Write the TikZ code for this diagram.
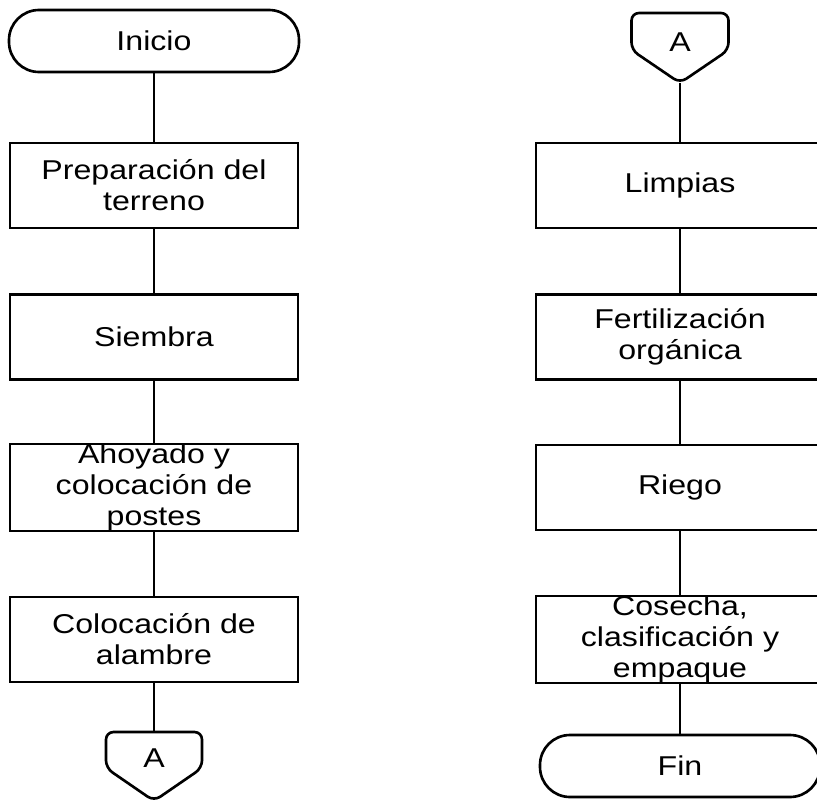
\documentclass[tikz,border=0pt]{standalone}
\usepackage{fontspec}
\setmainfont{Liberation Sans}[FakeStretch=1.18]
\usepackage{tikz}

\begin{document}
\begin{tikzpicture}[
    line width=1.5pt,
    every node/.style={font=\fontsize{15.5}{17.6}\selectfont},
    proceso/.style={draw, rectangle, minimum width=5.76cm, minimum height=1.7cm, inner sep=0pt, align=center},
    terminal/.style={draw, rectangle, rounded corners=0.6cm, minimum height=1.24cm, inner sep=0pt}
]
    \useasboundingbox (0,0) rectangle (16.34,-16.02);
    \def\conectorA{(3.08,-14.64) -- (4.04,-14.64) -- (4.04,-15.36) -- (3.08,-16.02) -- (2.12,-15.36) -- (2.12,-14.64) -- cycle}
    \def\conectorB{(13.6,-0.26) -- (14.57,-0.26) -- (14.57,-1.0) -- (13.6,-1.66) -- (12.63,-1.0) -- (12.63,-0.26) -- cycle}

    \node [terminal, minimum width=5.8cm] (inicio) at (3.08,-0.82){Inicio};
    \node [proceso] (preparacion) at (3.08,-3.71){Preparación del\\terreno};
    \node [proceso] (siembra) at (3.08,-6.74){Siembra};
    \node [proceso] (ahoyado) at (3.08,-9.75){Ahoyado y\\colocación de\\postes};
    \node [proceso] (alambre) at (3.08,-12.79){Colocación de\\alambre};

    \draw [rounded corners=0.15cm] \conectorA;
    \coordinate (conAtop) at (3.08,-14.64);
    \node (conA) at (3.08,-15.16){A};

    \draw [rounded corners=0.15cm] \conectorB;
    \coordinate (conBtip) at (13.6,-1.66);
    \node (conB) at (13.6,-0.84){A};

    \node [proceso] (limpias) at (13.6,-3.71){Limpias};
    \node [proceso] (fertilizacion) at (13.6,-6.74){Fertilización\\orgánica};
    \node [proceso] (riego) at (13.6,-9.75){Riego};
    \node [proceso] (cosecha) at (13.6,-12.79){Cosecha,\\clasificación y\\empaque};
    \node [terminal, minimum width=5.6cm] (fin) at (13.6,-15.32){Fin};

    \draw (inicio) -- (preparacion);  \draw (preparacion) -- (siembra);
    \draw (siembra) -- (ahoyado);  \draw (ahoyado) -- (alambre);
    \draw (alambre) -- (conAtop);

    \draw (conBtip) -- (limpias);  \draw (limpias) -- (fertilizacion);
    \draw (fertilizacion) -- (riego);  \draw (riego) -- (cosecha);
    \draw (cosecha) -- (fin);
\end{tikzpicture}
\end{document}
